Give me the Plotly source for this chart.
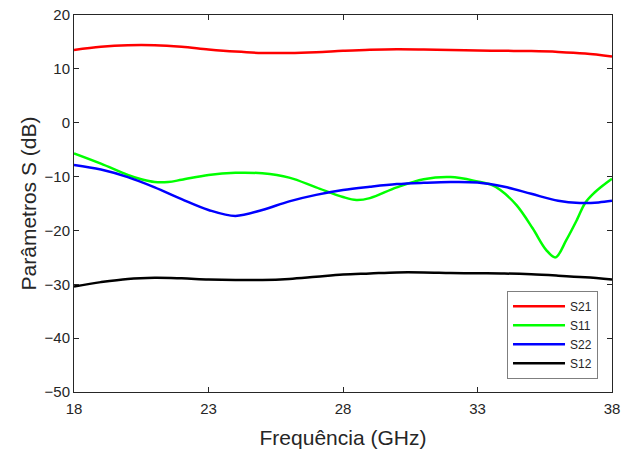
import plotly.graph_objects as go

freq_s21 = [18, 19, 20, 21, 22, 23, 24, 25, 26, 27, 28, 29, 30, 31, 32, 33, 34, 35, 36, 37, 38]
s21 = [13.5, 14.1, 14.4, 14.4, 14.1, 13.6, 13.2, 12.95, 12.95, 13.1, 13.35, 13.55, 13.65, 13.6, 13.5,
       13.4, 13.35, 13.3, 13.15, 12.85, 12.3]

freq_s11 = [18, 19, 20, 20.5, 21, 21.5, 22, 23, 24, 25, 26, 27, 28, 28.5, 29, 30, 31, 32, 33, 33.5,
            33.85, 34.45, 35.05, 35.55, 35.9, 36.3, 36.7, 37.0, 37.3, 37.65, 38]
s11 = [-5.7, -7.6, -9.7, -10.5, -11.0, -11.0, -10.6, -9.7, -9.3, -9.4, -10.2, -12.0, -13.8, -14.35,
       -14.0, -12.0, -10.5, -10.1, -10.9, -11.5, -12.5, -15.3, -19.6, -23.6, -25.0, -21.8, -18.0,
       -14.9, -13.2, -11.7, -10.4]

freq_s22 = [18, 19, 20, 21, 22, 23, 24, 25, 26, 27, 28, 29, 30, 31, 32, 33, 34, 35, 36, 36.8, 37.5, 38]
s22 = [-7.85, -8.7, -10.1, -12.0, -14.2, -16.2, -17.3, -16.2, -14.6, -13.4, -12.5, -11.9, -11.4,
       -11.15, -11.0, -11.1, -11.9, -13.2, -14.5, -14.9, -14.8, -14.5]

freq_s12 = [18, 19, 20, 21, 22, 23, 24, 25, 26, 27, 28, 29, 30, 31, 32, 33, 34, 35, 36, 37, 38]
s12 = [-30.4, -29.6, -29.0, -28.8, -28.9, -29.1, -29.2, -29.2, -29.0, -28.6, -28.2, -28.0, -27.8,
       -27.8, -27.9, -27.95, -28.0, -28.15, -28.4, -28.7, -29.1]

x_ticks = [18, 23, 28, 33, 38]
y_ticks = [-50, -40, -30, -20, -10, 0, 10, 20]

series = [
    ("S21", freq_s21, s21, "#ff0000"),
    ("S11", freq_s11, s11, "#00ff00"),
    ("S22", freq_s22, s22, "#0000ff"),
    ("S12", freq_s12, s12, "#000000"),
]

fig = go.Figure()
for name, fx, fy, col in series:
    fig.add_trace(go.Scatter(x=fx, y=fy, name=name, mode="lines",
                             line=dict(color=col, width=2.5, shape="spline", smoothing=1.0)))

FONT = "Liberation Sans, Arial, sans-serif"
axis_common = dict(showline=True, linecolor="#262626", linewidth=1, mirror="ticks",
                   ticks="inside", ticklen=5, tickcolor="#262626", showgrid=False, zeroline=False,
                   automargin=False, ticklabeloverflow="allow",
                   tickfont=dict(family=FONT, size=15, color="#262626"))

fig.update_layout(
    width=633, height=451,
    margin=dict(l=74, r=21, t=15, b=59),
    plot_bgcolor="white", paper_bgcolor="white",
    font=dict(family=FONT, color="#262626"),
    xaxis=dict(range=[18, 38], tickvals=x_ticks, ticklabelstandoff=3,
               title=dict(text="Frequência (GHz)", font=dict(size=21, color="#262626"), standoff=14),
               **axis_common),
    yaxis=dict(range=[-50, 20], tickvals=y_ticks,
               title=dict(text="Parâmetros S (dB)", font=dict(size=21, color="#262626"), standoff=2),
               **axis_common),
    legend=dict(x=0.974, y=0.035, xanchor="right", yanchor="bottom",
                bgcolor="white", bordercolor="#7f7f7f", borderwidth=1, itemwidth=52,
                font=dict(family=FONT, size=12, color="#262626"), tracegroupgap=0),
    showlegend=True,
)

fig.write_html("out.html", config={"displayModeBar": False},
               post_script="document.body.style.margin='0';document.body.style.overflow='hidden';")
